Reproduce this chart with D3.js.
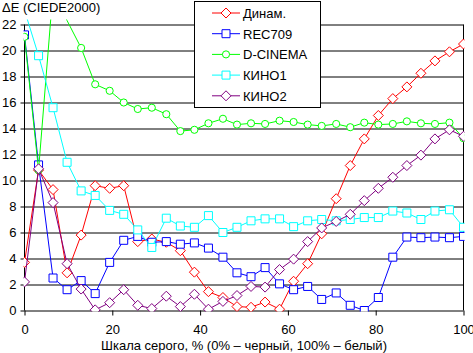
<!DOCTYPE html>
<html>
<head>
<meta charset="utf-8">
<script src="https://cdn.jsdelivr.net/npm/d3@7"></script>
<style>
  body { margin: 0; background: #fff; }
  svg { display: block; font-family: 'Liberation Sans', Arial, sans-serif; }
</style>
</head>
<body>
<div id="root"></div>
<script>
// grey level, % (32 steps)
const grey = [0, 3.2, 6.5, 9.7, 12.9, 16.1, 19.4, 22.6, 25.8, 29.0, 32.3, 35.5, 38.7, 41.9, 45.2, 48.4,
  51.6, 54.8, 58.1, 61.3, 64.5, 67.7, 71.0, 74.2, 77.4, 80.6, 83.9, 87.1, 90.3, 93.5, 96.8, 100]

const dinam = [3.7, 10.8, 9.3, 2.9, 5.8, 9.6, 9.4, 9.6, 5.3, 5.5, 5.25, 4.6, 2.95, 1.45, 1.0, 0.3,
  0.25, 0.65, 0.1, 2.25, 3.6, 5.9, 8.6, 11.15, 13.2, 15.0, 16.3, 17.2, 18.25, 19.2, 19.9, 20.5]
const rec709 = [21.2, 11.2, 2.5, 1.6, 2.3, 1.3, 3.7, 5.4, 5.7, 5.25, 5.3, 5.1, 5.2, 4.8, 4.1, 2.9,
  2.6, 3.3, 2.05, 1.6, 1.85, 0.85, 1.35, 0.4, 0.0, 1.0, 4.1, 5.65, 5.6, 5.65, 5.6, 5.7]
const dcinema = [21.05, 10.8, 24.6, 22.3, 20.2, 17.4, 16.9, 16.0, 15.5, 15.6, 15.1, 13.8, 13.9, 14.4, 14.75, 14.3,
  14.4, 14.35, 14.6, 14.5, 14.3, 14.2, 14.35, 14.1, 14.45, 14.3, 14.35, 14.55, 14.4, 14.35, 14.45, 13.25]
const kino1 = [23.1, 19.6, 15.6, 11.4, 9.2, 8.85, 7.7, 7.4, 6.2, 4.85, 7.1, 6.5, 6.4, 7.3, 6.0, 6.4,
  6.9, 7.05, 7.05, 6.45, 6.9, 7.0, 6.9, 7.0, 7.15, 7.15, 7.65, 7.5, 7.0, 7.65, 7.75, 6.4]
const kino2 = [2.2, 10.9, 8.3, 3.6, 1.65, 0.05, 0.6, 1.6, 0.4, 0.15, 1.1, 0.3, 1.25, 0.1, 0.7, 1.15,
  1.85, 1.8, 3.15, 3.95, 5.3, 6.35, 6.85, 7.4, 8.45, 9.4, 10.25, 11.15, 11.95, 13.2, 13.9, 13.4]

const seriesNames = ['Динам.', 'REC709', 'D-CINEMA', 'КИНО1', 'КИНО2']
const seriesColors = ['#ff0000', '#0000ff', '#00ff00', '#00ffff', '#800080']
const seriesMarkers = ['diamond', 'square', 'circle', 'square', 'diamond']
const seriesValues = [dinam, rec709, dcinema, kino1, kino2]

const xTicks = [0, 20, 40, 60, 80, 100]
const yTicks = [0, 2, 4, 6, 8, 10, 12, 14, 16, 18, 20, 22]
const yTitle = 'ΔE (CIEDE2000)'
const xTitle = 'Шкала серого, % (0% – черный, 100% – белый)'

const width = 473
const height = 353
const plot = { left: 24.5, right: 463.5, top: 24.5, bottom: 310.5 }

const svg = d3.select('#root').append('svg')
  .attr('width', width)
  .attr('height', height)

const x = d3.scaleLinear().domain([0, 100]).range([plot.left, plot.right])
const y = d3.scaleLinear().domain([0, 22]).range([plot.bottom, plot.top])

// gridlines + left ticks
const yAxis = svg.append('g')
  .attr('transform', `translate(${plot.left},0)`)
  .call(d3.axisLeft(y).tickValues(yTicks).tickSize(4).tickPadding(4))
yAxis.select('.domain').remove()
yAxis.selectAll('.tick line').clone()
  .attr('x1', 0)
  .attr('x2', plot.right - plot.left)
yAxis.selectAll('.tick text')
  .attr('font-size', 13)
  .attr('font-family', "'Liberation Sans', Arial, sans-serif")
  .attr('fill', '#000')

const xAxis = svg.append('g')
  .attr('transform', `translate(0,${plot.bottom})`)
  .call(d3.axisBottom(x).tickValues(xTicks).tickSize(5).tickPadding(9))
xAxis.select('.domain').remove()
xAxis.selectAll('.tick text')
  .attr('font-size', 13)
  .attr('font-family', "'Liberation Sans', Arial, sans-serif")
  .attr('fill', '#000')

// vertical frame lines
svg.append('line')
  .attr('x1', plot.left).attr('x2', plot.left)
  .attr('y1', plot.top).attr('y2', plot.bottom)
  .attr('stroke', '#000')
svg.append('line')
  .attr('x1', plot.right).attr('x2', plot.right)
  .attr('y1', plot.top).attr('y2', plot.bottom)
  .attr('stroke', '#000')

svg.append('clipPath').attr('id', 'clip')
  .append('rect')
  .attr('x', plot.left - 1)
  .attr('y', plot.top - 5)
  .attr('width', plot.right - plot.left + 2)
  .attr('height', plot.bottom - plot.top + 6)

function markerPath (type) {
  if (type === 'diamond') return 'M0,-5L5,0L0,5L-5,0Z'
  if (type === 'square') return 'M-4,-4H4V4H-4Z'
  return d3.symbol(d3.symbolCircle, 40)()
}

const bounds = svg.append('g').attr('clip-path', 'url(#clip)')
const line = d3.line()
  .x((d, i) => x(grey[i]))
  .y(d => y(d))

seriesValues.forEach((vals, s) => {
  const g = bounds.append('g')
  g.append('path')
    .attr('d', line(vals))
    .attr('fill', 'none')
    .attr('stroke', seriesColors[s])
    .attr('stroke-width', 1)
  g.selectAll('path.marker')
    .data(vals.map((v, i) => ({ v, i })).filter(d => d.v <= 22))
    .join('path')
    .attr('class', 'marker')
    .attr('transform', d => `translate(${x(grey[d.i])},${y(d.v)})`)
    .attr('d', markerPath(seriesMarkers[s]))
    .attr('fill', '#fff')
    .attr('stroke', seriesColors[s])
    .attr('stroke-width', 1)
})

// titles
svg.append('text')
  .text(yTitle)
  .attr('x', 2)
  .attr('y', 12)
  .attr('font-size', 13)
svg.append('text')
  .text(xTitle)
  .attr('x', (plot.left + plot.right) / 2)
  .attr('y', 350)
  .attr('font-size', 13)
  .attr('text-anchor', 'middle')

// legend
const legend = svg.append('g')
legend.append('rect')
  .attr('x', 194.5).attr('y', 1.5)
  .attr('width', 126).attr('height', 106)
  .attr('fill', '#fff')
  .attr('stroke', '#000')
const item = legend.selectAll('g.item')
  .data(seriesNames)
  .join('g')
  .attr('class', 'item')
  .attr('transform', (d, i) => `translate(0,${13 + i * 20.7})`)
item.append('line')
  .attr('x1', 212).attr('x2', 240)
  .attr('stroke', (d, i) => seriesColors[i])
item.append('path')
  .attr('transform', 'translate(226,0)')
  .attr('d', (d, i) => markerPath(seriesMarkers[i]))
  .attr('fill', '#fff')
  .attr('stroke', (d, i) => seriesColors[i])
item.append('text')
  .text(d => d)
  .attr('x', 243)
  .attr('y', 5)
  .attr('font-size', 13)
</script>
</body>
</html>
